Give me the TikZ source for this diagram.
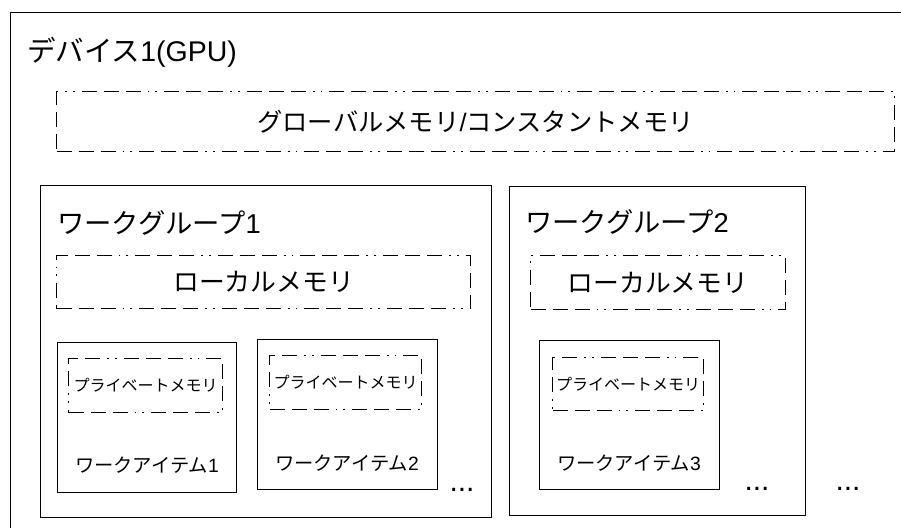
\documentclass[tikz,border=0pt]{standalone}
\usepackage{fontspec}
\setmainfont{Liberation Sans}
\newfontfamily\jp{Noto Sans CJK JP}
\begin{document}
\begin{tikzpicture}[x=1pt,y=-1pt,
  solidbox/.style={draw, line width=1.1pt, rectangle, anchor=north west, inner sep=0pt},
  membox/.style={draw, line width=1.1pt, rectangle, anchor=north west, inner sep=0pt,
    dash pattern=on 15pt off 7pt on 15pt off 7pt on 15pt off 7pt on 1.8pt off 6pt on 1.8pt off 7pt},
  lbl/.style={inner sep=0pt},
  big/.style={lbl, font=\fontsize{25.3}{30}\selectfont},
  grp/.style={lbl, anchor=west, font=\fontsize{27.3}{31}\selectfont},
  mid/.style={lbl, font=\fontsize{19.3}{23}\selectfont},
  small/.style={lbl, font=\fontsize{16}{19}\selectfont},
  dots/.style={lbl, font=\fontsize{30}{32}\selectfont}]
\useasboundingbox (0,0) rectangle (901,527);
\clip (0,0) rectangle (901,527);
% device
\node[solidbox, minimum width=900pt, minimum height=530pt] (dev) at (10,12) {};
\node[grp, font=\fontsize{28.5}{32}\selectfont] (devlabel) at (27,52) {{\jp デバイス}1(GPU)};
% global memory
\node[membox, minimum width=838pt, minimum height=60pt] (glob) at (56,91) {};
\node[big] (globlabel) at (glob.center) {{\jp グローバルメモリ}/{\jp コンスタントメモリ}};
% workgroup 1
\node[solidbox, minimum width=451pt, minimum height=332pt] (wg1) at (40,185) {};
\node[grp] (wg1label) at (57,223) {{\jp ワークグループ}1};
\node[membox, minimum width=414pt, minimum height=53pt] (lm1) at (56,255) {};
\node[big, font=\fontsize{25.8}{30}\selectfont] (lm1label) at (lm1.center) {\jp ローカルメモリ};
% work item 1
\node[solidbox, minimum width=179pt, minimum height=150pt] (wi1) at (57,342) {};
\node[membox, minimum width=154pt, minimum height=54pt] (pm1) at (68,358) {};
\node[small] (pm1label) at (pm1.center) {\jp プライベートメモリ};
\node[mid] (wi1label) at (147,465) {{\jp ワークアイテム}1};
% work item 2
\node[solidbox, minimum width=180pt, minimum height=150pt] (wi2) at (257,339) {};
\node[membox, minimum width=152pt, minimum height=54pt] (pm2) at (269,355) {};
\node[small] (pm2label) at (pm2.center) {\jp プライベートメモリ};
\node[mid] (wi2label) at (347,463) {{\jp ワークアイテム}2};
\node[dots] (dots1) at (462,490) {...};
% workgroup 2
\node[solidbox, minimum width=296pt, minimum height=329pt] (wg2) at (509,186) {};
\node[grp] (wg2label) at (525,222) {{\jp ワークグループ}2};
\node[membox, minimum width=255pt, minimum height=54pt] (lm2) at (530,255) {};
\node[big, font=\fontsize{25.8}{30}\selectfont] (lm2label) at (lm2.center) {\jp ローカルメモリ};
% work item 3
\node[solidbox, minimum width=180pt, minimum height=149pt] (wi3) at (539,340) {};
\node[membox, minimum width=151pt, minimum height=53pt] (pm3) at (552,357) {};
\node[small] (pm3label) at (pm3.center) {\jp プライベートメモリ};
\node[mid] (wi3label) at (629,463) {{\jp ワークアイテム}3};
\node[dots] (dots2) at (757,489) {...};
\node[dots] (dots3) at (848,489) {...};
\end{tikzpicture}
\end{document}
